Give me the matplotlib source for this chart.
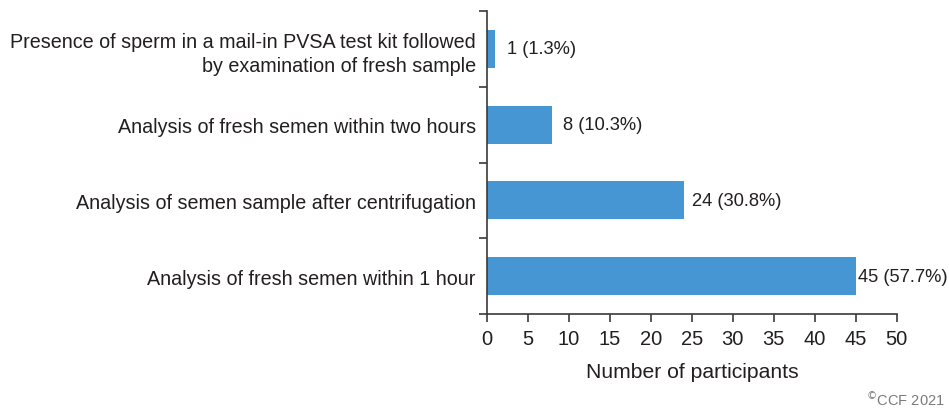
import matplotlib
matplotlib.use("Agg")
import matplotlib.pyplot as plt
import numpy as np

plt.rcParams['font.family'] = ['Liberation Sans', 'DejaVu Sans']

categories = [
    "Analysis of fresh semen within 1 hour",
    "Analysis of semen sample after centrifugation",
    "Analysis of fresh semen within two hours",
    "Presence of sperm in a mail-in PVSA test kit followed\nby examination of fresh sample",
]
counts = [45, 24, 8, 1]
percents = [57.7, 30.8, 10.3, 1.3]
xticks = list(range(0, 55, 5))

text_color = "#231f20"
axis_color = "#3a3a3a"
bar_color = "#4596d3"
label_offsets_px = [2, 8, 11, 12]

fig = plt.figure(figsize=(9.49, 4.14), dpi=100)
ax = fig.add_axes([0.513, 0.239, 0.432, 0.732])

y = np.arange(len(categories))
ax.barh(y, counts, height=0.5, color=bar_color)
for yi, c, p, off in zip(y, counts, percents, label_offsets_px):
    ax.annotate(f"{c} ({p}%)", xy=(c, yi), xytext=(off * 0.72, 0), textcoords="offset points",
                va="center", ha="left", fontsize=13.2, color=text_color)

ax.set_xlim(0, 50)
ax.set_ylim(-0.5, len(categories) - 0.5)
ax.set_xticks(xticks)
ax.set_xticklabels([str(t) for t in xticks], fontsize=14.5, color=text_color)
ax.set_yticks(y)
ax.set_yticklabels(categories, fontsize=14.2, color=text_color, linespacing=1.35)
ax.tick_params(axis='y', length=0, pad=8)
ax.set_yticks(np.arange(-0.5, len(categories), 1.0), minor=True)
ax.tick_params(axis='y', which='minor', length=6, width=1.2, color=axis_color, direction='out')
ax.tick_params(axis='x', length=6, width=1.2, color=axis_color, direction='out', pad=5)
ax.set_xlabel("Number of participants", fontsize=15.2, color=text_color, labelpad=10)

for s in ['top', 'right']:
    ax.spines[s].set_visible(False)
for s in ['left', 'bottom']:
    ax.spines[s].set_color(axis_color)
    ax.spines[s].set_linewidth(1.2)

fig.text(0.995, 0.012, "$^{\\copyright}$CCF 2021", ha="right", va="bottom", fontsize=10.5, color="#7a7a7a")

fig.savefig("out.png", dpi=100)
